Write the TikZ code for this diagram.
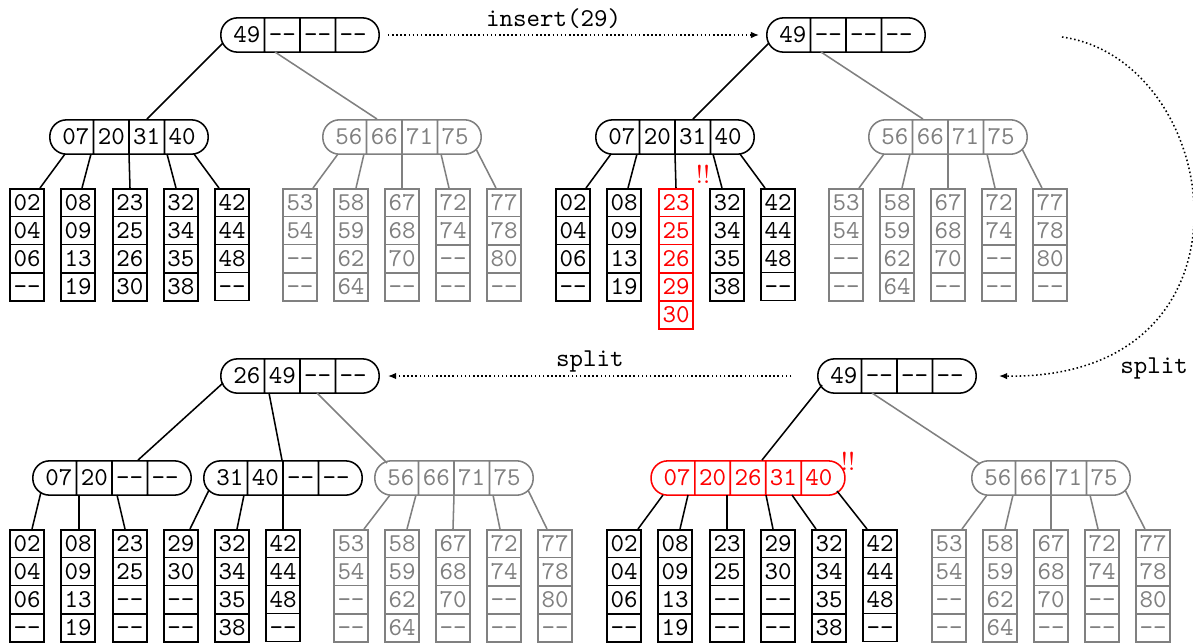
\documentclass[tikz,border=0pt]{standalone}
\usepackage{tikz}
\usetikzlibrary{shapes.multipart,arrows.meta,calc}

\newcommand{\pad}{\hspace*{3.5pt}}
\newcommand{\nil}{\vphantom{0}-{}-}

\tikzset{
  keys/.style={font=\ttfamily, text height=6.2pt, text depth=0pt, semithick},
  keynode/.style={keys, draw, rectangle split, rectangle split horizontal, rectangle split parts=#1, rounded corners=6.5pt, inner xsep=1.35pt, inner ysep=3.5pt},
  leafnode/.style={keys, draw, rectangle split, rectangle split parts=#1, inner xsep=1.35pt, inner ysep=2pt, anchor=north},
  old/.style={gray},
  bad/.style={red},
  link/.style={semithick},
  flow/.style={semithick, densely dotted, -{Latex[length=3.2pt,width=2.6pt]}},
  note/.style={font=\ttfamily, anchor=base},
  alarm/.style={red, inner sep=0pt}
}

\begin{document}
\begin{tikzpicture}[x=0.3889pt, y=-0.3889pt]
    \useasboundingbox (0,0) rectangle (1193,643);

    % Before insert
    \node (rA) [keynode=4] at (300,35) {\pad 49\nodepart{two}\nil\nodepart{three}\nil\nodepart{four}\nil\pad};
    \node (A1) [keynode=4] at (129,137) {\pad 07\nodepart{two}20\nodepart{three}31\nodepart{four}40\pad};
    \node (A2) [keynode=4, old] at (402,137) {\pad 56\nodepart{two}66\nodepart{three}71\nodepart{four}75\pad};
    \node (a11) [leafnode=4] at (27,188) {02\nodepart{two}04\nodepart{three}06\nodepart{four}\nil};
    \node (a12) [leafnode=4] at (78,188) {08\nodepart{two}09\nodepart{three}13\nodepart{four}19};
    \node (a13) [leafnode=4] at (130,188) {23\nodepart{two}25\nodepart{three}26\nodepart{four}30};
    \node (a14) [leafnode=4] at (181,188) {32\nodepart{two}34\nodepart{three}35\nodepart{four}38};
    \node (a15) [leafnode=4] at (232,188) {42\nodepart{two}44\nodepart{three}48\nodepart{four}\nil};
    \node (a21) [leafnode=4, old] at (300,188) {53\nodepart{two}54\nodepart{three}\nil\nodepart{four}\nil};
    \node (a22) [leafnode=4, old] at (351,188) {58\nodepart{two}59\nodepart{three}62\nodepart{four}64};
    \node (a23) [leafnode=4, old] at (402,188) {67\nodepart{two}68\nodepart{three}70\nodepart{four}\nil};
    \node (a24) [leafnode=4, old] at (453,188) {72\nodepart{two}74\nodepart{three}\nil\nodepart{four}\nil};
    \node (a25) [leafnode=4, old] at (504,188) {77\nodepart{two}78\nodepart{three}80\nodepart{four}\nil};

    % After insert, leaf overflows
    \node (rB) [keynode=4] at (846,35) {\pad 49\nodepart{two}\nil\nodepart{three}\nil\nodepart{four}\nil\pad};
    \node (B1) [keynode=4] at (675,137) {\pad 07\nodepart{two}20\nodepart{three}31\nodepart{four}40\pad};
    \node (B2) [keynode=4, old] at (948,137) {\pad 56\nodepart{two}66\nodepart{three}71\nodepart{four}75\pad};
    \node (b11) [leafnode=4] at (573,188) {02\nodepart{two}04\nodepart{three}06\nodepart{four}\nil};
    \node (b12) [leafnode=4] at (624,188) {08\nodepart{two}09\nodepart{three}13\nodepart{four}19};
    \node (b13) [leafnode=5, bad] at (676,188) {23\nodepart{two}25\nodepart{three}26\nodepart{four}29\nodepart{five}30};
    \node (b14) [leafnode=4] at (727,188) {32\nodepart{two}34\nodepart{three}35\nodepart{four}38};
    \node (b15) [leafnode=4] at (778,188) {42\nodepart{two}44\nodepart{three}48\nodepart{four}\nil};
    \node (b21) [leafnode=4, old] at (846,188) {53\nodepart{two}54\nodepart{three}\nil\nodepart{four}\nil};
    \node (b22) [leafnode=4, old] at (897,188) {58\nodepart{two}59\nodepart{three}62\nodepart{four}64};
    \node (b23) [leafnode=4, old] at (948,188) {67\nodepart{two}68\nodepart{three}70\nodepart{four}\nil};
    \node (b24) [leafnode=4, old] at (999,188) {72\nodepart{two}74\nodepart{three}\nil\nodepart{four}\nil};
    \node (b25) [leafnode=4, old] at (1050,188) {77\nodepart{two}78\nodepart{three}80\nodepart{four}\nil};
    \node (warnB) [alarm] at ($(b13.north)+(27,-14)$) {!!};

    % First split, inner node overflows
    \node (rC) [keynode=4] at (897,376) {\pad 49\nodepart{two}\nil\nodepart{three}\nil\nodepart{four}\nil\pad};
    \node (C1) [keynode=5, bad] at (748,478) {\pad 07\nodepart{two}20\nodepart{three}26\nodepart{four}31\nodepart{five}40\pad};
    \node (C2) [keynode=4, old] at (1051,478) {\pad 56\nodepart{two}66\nodepart{three}71\nodepart{four}75\pad};
    \node (c11) [leafnode=4] at (624,529) {02\nodepart{two}04\nodepart{three}06\nodepart{four}\nil};
    \node (c12) [leafnode=4] at (675,529) {08\nodepart{two}09\nodepart{three}13\nodepart{four}19};
    \node (c13) [leafnode=4] at (727,529) {23\nodepart{two}25\nodepart{three}\nil\nodepart{four}\nil};
    \node (c14) [leafnode=4] at (778,529) {29\nodepart{two}30\nodepart{three}\nil\nodepart{four}\nil};
    \node (c15) [leafnode=4] at (829,529) {32\nodepart{two}34\nodepart{three}35\nodepart{four}38};
    \node (c16) [leafnode=4] at (880,529) {42\nodepart{two}44\nodepart{three}48\nodepart{four}\nil};
    \node (c21) [leafnode=4, old] at (949,529) {53\nodepart{two}54\nodepart{three}\nil\nodepart{four}\nil};
    \node (c22) [leafnode=4, old] at (1000,529) {58\nodepart{two}59\nodepart{three}62\nodepart{four}64};
    \node (c23) [leafnode=4, old] at (1051,529) {67\nodepart{two}68\nodepart{three}70\nodepart{four}\nil};
    \node (c24) [leafnode=4, old] at (1102,529) {72\nodepart{two}74\nodepart{three}\nil\nodepart{four}\nil};
    \node (c25) [leafnode=4, old] at (1153,529) {77\nodepart{two}78\nodepart{three}80\nodepart{four}\nil};
    \node (warnC) [alarm] at ($(C1)+(100,-17)$) {!!};

    % Second split, done
    \node (rD) [keynode=4] at (300,376) {\pad 26\nodepart{two}49\nodepart{three}\nil\nodepart{four}\nil\pad};
    \node (D1) [keynode=4] at (112,478) {\pad 07\nodepart{two}20\nodepart{three}\nil\nodepart{four}\nil\pad};
    \node (D2) [keynode=4] at (283,478) {\pad 31\nodepart{two}40\nodepart{three}\nil\nodepart{four}\nil\pad};
    \node (D3) [keynode=4, old] at (454,478) {\pad 56\nodepart{two}66\nodepart{three}71\nodepart{four}75\pad};
    \node (d11) [leafnode=4] at (27,529) {02\nodepart{two}04\nodepart{three}06\nodepart{four}\nil};
    \node (d12) [leafnode=4] at (78,529) {08\nodepart{two}09\nodepart{three}13\nodepart{four}19};
    \node (d13) [leafnode=4] at (130,529) {23\nodepart{two}25\nodepart{three}\nil\nodepart{four}\nil};
    \node (d21) [leafnode=4] at (181,529) {29\nodepart{two}30\nodepart{three}\nil\nodepart{four}\nil};
    \node (d22) [leafnode=4] at (232,529) {32\nodepart{two}34\nodepart{three}35\nodepart{four}38};
    \node (d23) [leafnode=4] at (283,529) {42\nodepart{two}44\nodepart{three}48\nodepart{four}\nil};
    \node (d31) [leafnode=4, old] at (351,529) {53\nodepart{two}54\nodepart{three}\nil\nodepart{four}\nil};
    \node (d32) [leafnode=4, old] at (402,529) {58\nodepart{two}59\nodepart{three}62\nodepart{four}64};
    \node (d33) [leafnode=4, old] at (453,529) {67\nodepart{two}68\nodepart{three}70\nodepart{four}\nil};
    \node (d34) [leafnode=4, old] at (504,529) {72\nodepart{two}74\nodepart{three}\nil\nodepart{four}\nil};
    \node (d35) [leafnode=4, old] at (555,529) {77\nodepart{two}78\nodepart{three}80\nodepart{four}\nil};

    % Links, before insert
    \draw [link] ($(rA)+(-77,8)$) -- ($(A1.north)+(18,0)$);
    \draw [link, old] ($(rA)+(-25,17)$) -- ($(A2.north)+(-25,0)$);
    \draw [link] ($(A1)+(-64,17)$) -- ($(a11.north)+(13,0)$);
    \draw [link] ($(A1)+(-38,17)$) -- ($(a12.north)+(4,0)$);
    \draw [link] ($(A1)+(0,17)$) -- (a13.north);
    \draw [link] ($(A1)+(38,17)$) -- ($(a14.north)+(-5,0)$);
    \draw [link] ($(A1)+(65,17)$) -- ($(a15.north)+(-13,0)$);
    \draw [link, old] ($(A2)+(-64,17)$) -- ($(a21.north)+(13,0)$);
    \draw [link, old] ($(A2)+(-38,17)$) -- ($(a22.north)+(5,0)$);
    \draw [link, old] ($(A2)+(0,17)$) -- (a23.north);
    \draw [link, old] ($(A2)+(39,17)$) -- ($(a24.north)+(-4,0)$);
    \draw [link, old] ($(A2)+(74,12)$) -- ($(a25.north)+(-8,0)$);

    % Links, after insert
    \draw [link] ($(rB)+(-77,8)$) -- ($(B1.north)+(18,0)$);
    \draw [link, old] ($(rB)+(-25,17)$) -- ($(B2.north)+(-25,0)$);
    \draw [link] ($(B1)+(-64,17)$) -- ($(b11.north)+(13,0)$);
    \draw [link] ($(B1)+(-38,17)$) -- ($(b12.north)+(4,0)$);
    \draw [link] ($(B1)+(0,17)$) -- (b13.north);
    \draw [link] ($(B1)+(38,17)$) -- ($(b14.north)+(-5,0)$);
    \draw [link] ($(B1)+(65,17)$) -- ($(b15.north)+(-13,0)$);
    \draw [link, old] ($(B2)+(-64,17)$) -- ($(b21.north)+(13,0)$);
    \draw [link, old] ($(B2)+(-38,17)$) -- ($(b22.north)+(5,0)$);
    \draw [link, old] ($(B2)+(0,17)$) -- (b23.north);
    \draw [link, old] ($(B2)+(39,17)$) -- ($(b24.north)+(-4,0)$);
    \draw [link, old] ($(B2)+(74,12)$) -- ($(b25.north)+(-8,0)$);

    % Links, first split
    \draw [link] ($(rC)+(-75,9)$) -- ($(C1.north)+(14,0)$);
    \draw [link, old] ($(rC)+(-25,17)$) -- ($(C2)+(-71,-14)$);
    \draw [link] ($(C1)+(-85,17)$) -- ($(c11.north)+(14,0)$);
    \draw [link] ($(C1)+(-60,17)$) -- ($(c12.north)+(5,0)$);
    \draw [link] ($(C1)+(-21,17)$) -- (c13.north);
    \draw [link] ($(C1)+(18,17)$) -- ($(c14.north)+(-5,0)$);
    \draw [link] ($(C1)+(44,17)$) -- ($(c15.north)+(-13,0)$);
    \draw [link] ($(C1)+(89,13)$) -- ($(c16.north)+(-13,0)$);
    \draw [link, old] ($(C2)+(-64,17)$) -- ($(c21.north)+(13,0)$);
    \draw [link, old] ($(C2)+(-38,17)$) -- ($(c22.north)+(5,0)$);
    \draw [link, old] ($(C2)+(0,17)$) -- (c23.north);
    \draw [link, old] ($(C2)+(39,17)$) -- ($(c24.north)+(-4,0)$);
    \draw [link, old] ($(C2)+(74,12)$) -- ($(c25.north)+(-8,0)$);

    % Links, second split
    \draw [link] ($(rD)+(-77,7)$) -- ($(D1.north)+(26,0)$);
    \draw [link] ($(rD)+(-31,17)$) -- ($(D2.north)+(-1,0)$);
    \draw [link, old] ($(rD)+(17,17)$) -- ($(D3)+(-67,-15)$);
    \draw [link] ($(D1)+(-71,14)$) -- ($(d11.north)+(5,0)$);
    \draw [link] ($(D1)+(-33,17)$) -- ($(d12.north)+(1,0)$);
    \draw [link] ($(D1)+(5,17)$) -- ($(d13.north)+(-5,0)$);
    \draw [link] ($(D2)+(-74,12)$) -- ($(d21.north)+(9,0)$);
    \draw [link] ($(D2)+(-39,17)$) -- ($(d22.north)+(5,0)$);
    \draw [link] ($(D2)+(0,17)$) -- (d23.north);
    \draw [link, old] ($(D3)+(-64,17)$) -- ($(d31.north)+(13,0)$);
    \draw [link, old] ($(D3)+(-38,17)$) -- ($(d32.north)+(5,0)$);
    \draw [link, old] ($(D3)+(0,17)$) -- (d33.north);
    \draw [link, old] ($(D3)+(39,17)$) -- ($(d34.north)+(-4,0)$);
    \draw [link, old] ($(D3)+(74,12)$) -- ($(d35.north)+(-8,0)$);

    % Steps
    \draw [flow, shorten <=3.1pt, shorten >=2.7pt] (rA.east) -- node [note, pos=0.45, yshift=3.5pt] {insert(29)} (rB.west);
    \coordinate (bendA) at ($(rB.east)+(136,2)$);
    \coordinate (bendB) at ($(rC.east)+(22,0)$);
    \draw [flow] (bendA) .. controls (1225,60) and (1270,380) .. (bendB);
    \node (splitR) [note] at (1154,373) {split};
    \draw [flow, shorten <=10pt, shorten >=3.1pt] (rC.west) -- node [note, pos=0.52, yshift=3.8pt] {split} (rD.east);
\end{tikzpicture}
\end{document}
